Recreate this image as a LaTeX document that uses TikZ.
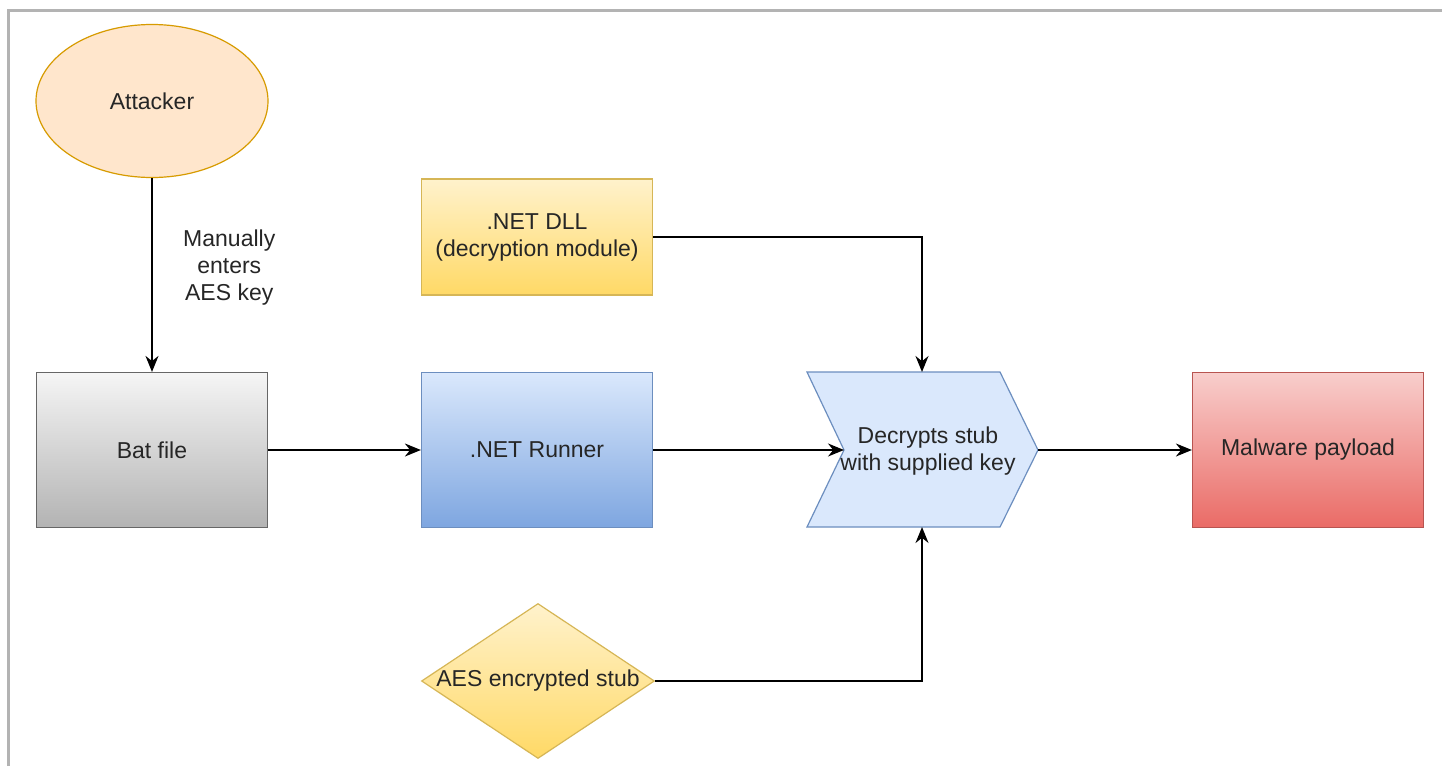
\documentclass[tikz,border=0pt]{standalone}
\usepackage{fontspec}
\setmainfont{Liberation Sans}
\usetikzlibrary{shapes.geometric,arrows.meta}

\definecolor{peachfill}{HTML}{FFE6CC}
\definecolor{peachline}{HTML}{D79B00}
\definecolor{greytop}{HTML}{F5F5F5}
\definecolor{greybot}{HTML}{B3B3B3}
\definecolor{greyline}{HTML}{666666}
\definecolor{bluetop}{HTML}{DAE8FC}
\definecolor{bluebot}{HTML}{7EA6E0}
\definecolor{blueline}{HTML}{6C8EBF}
\definecolor{yellowtop}{HTML}{FFF2CC}
\definecolor{yellowbot}{HTML}{FFD966}
\definecolor{yellowline}{HTML}{D6B656}
\definecolor{redtop}{HTML}{F8CECC}
\definecolor{redbot}{HTML}{EA6B66}
\definecolor{redline}{HTML}{B85450}
\definecolor{frameline}{HTML}{B3B3B3}

\tikzset{
  box/.style={rectangle, minimum width=231, minimum height=155, inner sep=0pt, line width=1.2pt},
  flow/.style={line width=1.8pt, -{Stealth[length=16pt, width=13pt]}}
}

\begin{document}
\begin{tikzpicture}[x=1pt, y=-1pt, every node/.style={font=\fontsize{23}{27}\selectfont, text=black!85}]
  \useasboundingbox (0,0) rectangle (1442,766);
  \fill[white] (0,0) rectangle (1442,766);
  \draw[frameline, line width=2.2pt] (8.5,766) -- (8.5,10.5) -- (1442,10.5);

  \node[ellipse, draw=peachline, fill=peachfill, line width=1.2pt,
        minimum width=232, minimum height=153] (attacker) at (152,101) {Attacker};
  \node[box, draw=greyline, top color=greytop, bottom color=greybot] (bat) at (152,450) {Bat file};
  \node[box, draw=blueline, top color=bluetop, bottom color=bluebot] (runner) at (537,450) {.NET Runner};
  \node[box, minimum height=116, draw=yellowline, top color=yellowtop, bottom color=yellowbot,
        align=center] (dll) at (537,237) {.NET DLL\\(decryption module)};
  \node[box, draw=redline, top color=redtop, bottom color=redbot] (payload) at (1308,450) {Malware payload};
  \node[diamond, draw=yellowline, top color=yellowtop, bottom color=yellowbot, line width=1.2pt,
        minimum width=233, minimum height=155, inner sep=0pt,
        label={center:AES encrypted stub}] (stub) at (538,681) {};

  % chevron
  \coordinate (TL) at (807,372);
  \coordinate (TR) at (1000,372);
  \coordinate (TIP) at (1038,450);
  \coordinate (BR) at (1000,527);
  \coordinate (BL) at (807,527);
  \coordinate (NOTCH) at (844,450);
  \coordinate (DT) at (922,372);
  \coordinate (DB) at (922,527);
  \filldraw[draw=blueline, fill=bluetop, line width=1.2pt]
    (TL)--(TR)--(TIP)--(BR)--(BL)--(NOTCH)--cycle;
  \node[align=center] (decrypt) at (928,451) {Decrypts stub\\with supplied key};

  \draw[flow] (attacker) -- node[pos=0.46, anchor=west, xshift=27pt, align=center] (keylbl)
    {Manually\\enters\\AES key} (bat);
  \draw[flow] (bat) -- (runner);
  \draw[flow] (runner) -- (NOTCH);
  \draw[flow] (TIP) -- (payload);
  \draw[flow] (dll.east) -| (DT);
  \draw[flow] (stub.east) -| (DB);
\end{tikzpicture}
\end{document}
